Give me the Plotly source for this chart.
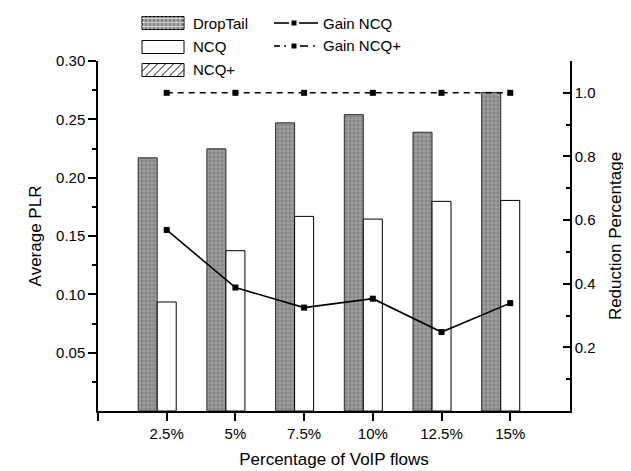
import plotly.graph_objects as go

categories = ["2.5%", "5%", "7.5%", "10%", "12.5%", "15%"]
x_pos = [1, 2, 3, 4, 5, 6]
droptail = [0.217, 0.2247, 0.247, 0.254, 0.2389, 0.2731]
ncq = [0.0934, 0.1374, 0.1668, 0.1645, 0.1797, 0.1805]
ncq_plus = [0, 0, 0, 0, 0, 0]
gain_ncq = [0.569, 0.388, 0.325, 0.353, 0.248, 0.339]
gain_ncq_plus = [1.0, 1.0, 1.0, 1.0, 1.0, 1.0]

left_ticks = [0.05, 0.10, 0.15, 0.20, 0.25, 0.30]
left_minor = [0.025, 0.075, 0.125, 0.175, 0.225, 0.275]
right_ticks = [0.2, 0.4, 0.6, 0.8, 1.0]
right_minor = [0.1, 0.3, 0.5, 0.7, 0.9, 1.1]

W, H = 631, 471
PL, PR, PT, PB = 90, 562, 53, 403
FONT = "Liberation Sans, Arial, sans-serif"


def px(x):
    return (x - PL) / (PR - PL)


def py(y):
    return (PB - y) / (PB - PT)


fig = go.Figure()
fig.add_trace(go.Bar(
    x=x_pos, y=droptail, name="DropTail",
    marker=dict(color="#858585",
                pattern=dict(shape="+", fgcolor="#d2d2d2", bgcolor="#858585",
                             size=4, solidity=0.35),
                line=dict(color="#2a2a2a", width=1)),
))
fig.add_trace(go.Bar(
    x=x_pos, y=ncq, name="NCQ",
    marker=dict(color="white", line=dict(color="black", width=1)),
))
fig.add_trace(go.Bar(
    x=x_pos, y=ncq_plus, name="NCQ+",
    marker=dict(color="white",
                pattern=dict(shape="/", fgcolor="black", bgcolor="white", size=8),
                line=dict(color="black", width=0)),
))
fig.add_trace(go.Scatter(
    x=x_pos, y=gain_ncq, name="Gain NCQ", yaxis="y2", mode="lines+markers",
    line=dict(color="black", width=1.6),
    marker=dict(symbol="square", size=6, color="black"),
))
fig.add_trace(go.Scatter(
    x=x_pos, y=gain_ncq_plus, name="Gain NCQ+", yaxis="y2", mode="lines+markers",
    line=dict(color="black", width=1.6, dash="6px,5px"),
    marker=dict(symbol="square", size=6, color="black"),
))

shapes = []
annotations = []

# custom legend (bars)
rows = [15, 39, 62]
pw0, pw1 = 134, 176
ph = 6.5
labels = ["DropTail", "NCQ", "NCQ+"]
for i, (yc, lab) in enumerate(zip(rows, labels)):
    y0, y1 = yc - ph, yc + ph
    fill = "#858585" if i == 0 else "white"
    shapes.append(dict(type="rect", xref="paper", yref="paper",
                       x0=px(pw0), x1=px(pw1), y0=py(y1), y1=py(y0),
                       fillcolor=fill, line=dict(color="black", width=1)))
    if i == 0:
        path = ""
        xx = pw0 + 2
        while xx < pw1:
            path += f"M{px(xx)},{py(y0)} L{px(xx)},{py(y1)} "
            xx += 4
        yy = y0 + 2
        while yy < y1:
            path += f"M{px(pw0)},{py(yy)} L{px(pw1)},{py(yy)} "
            yy += 4
        shapes.append(dict(type="path", xref="paper", yref="paper", path=path,
                           line=dict(color="#d2d2d2", width=1)))
    if i == 2:
        path = ""
        hgt = y1 - y0
        k = pw0 - hgt
        while k < pw1:
            xa, ya = k, y1
            xb, yb = k + hgt, y0
            if xa < pw0:
                ya = y1 - (pw0 - xa)
                xa = pw0
            if xb > pw1:
                yb = y0 + (xb - pw1)
                xb = pw1
            if xb > xa:
                path += f"M{px(xa)},{py(ya)} L{px(xb)},{py(yb)} "
            k += 8
        shapes.append(dict(type="path", xref="paper", yref="paper", path=path,
                           line=dict(color="black", width=1)))
    annotations.append(dict(text=lab, xref="paper", yref="paper", x=px(183), y=py(yc),
                            xanchor="left", yanchor="middle", showarrow=False,
                            font=dict(size=15, family=FONT, color="black")))

# custom legend (lines)
ly1, ly2 = 15, 38
for seg in [(266, 281), (291, 310)]:
    shapes.append(dict(type="line", xref="paper", yref="paper",
                       x0=px(seg[0]), x1=px(seg[1]), y0=py(ly1), y1=py(ly1),
                       line=dict(color="black", width=1.6)))
for seg in [(266, 272), (276, 278), (292, 300), (305, 307)]:
    shapes.append(dict(type="line", xref="paper", yref="paper",
                       x0=px(seg[0]), x1=px(seg[1]), y0=py(ly2), y1=py(ly2),
                       line=dict(color="black", width=1.6)))
for yc in (ly1, ly2):
    shapes.append(dict(type="rect", xref="paper", yref="paper",
                       x0=px(283.5), x1=px(288.5), y0=py(yc + 2.5), y1=py(yc - 2.5),
                       fillcolor="black", line=dict(width=0)))
for yc, lab in [(ly1, "Gain NCQ"), (ly2, "Gain NCQ+")]:
    annotations.append(dict(text=lab, xref="paper", yref="paper", x=px(313), y=py(yc),
                            xanchor="left", yanchor="middle", showarrow=False,
                            font=dict(size=15, family=FONT, color="black")))

fig.update_layout(
    width=W, height=H, autosize=False,
    margin=dict(l=PL, r=W - PR, t=PT, b=H - PB, pad=0),
    plot_bgcolor="white", paper_bgcolor="white",
    barmode="group", bargap=0.17, bargroupgap=0,
    showlegend=False,
    font=dict(family=FONT, size=15, color="black"),
    shapes=shapes, annotations=annotations,
    xaxis=dict(range=[0, 6.87], tickvals=[0] + x_pos, ticktext=[""] + categories,
               ticks="outside", ticklen=8, tickwidth=1.5, tickcolor="black",
               showline=True, linecolor="black", linewidth=1.5,
               showgrid=False, zeroline=False,
               title=dict(text="Percentage of VoIP flows", font=dict(size=17), standoff=12),
               tickfont=dict(size=15)),
    yaxis=dict(range=[0, 0.30], tickvals=left_ticks, tickformat=".2f",
               ticks="outside", ticklen=8, tickwidth=1.5, tickcolor="black",
               minor=dict(tickvals=left_minor, ticks="outside", ticklen=4,
                          tickwidth=1.5, tickcolor="black", showgrid=False),
               showline=True, linecolor="black", linewidth=1.5,
               showgrid=False, zeroline=False,
               title=dict(text="Average PLR", font=dict(size=17), standoff=10),
               tickfont=dict(size=15)),
    yaxis2=dict(range=[0, 1.1], tickvals=right_ticks, tickformat=".1f",
                overlaying="y", side="right",
                ticks="inside", ticklen=7, tickwidth=1.5, tickcolor="black",
                minor=dict(tickvals=right_minor, ticks="inside", ticklen=4,
                           tickwidth=1.5, tickcolor="black", showgrid=False),
                showline=True, linecolor="black", linewidth=1.5,
                showgrid=False, zeroline=False,
                title=dict(text="Reduction Percentage", font=dict(size=17), standoff=14),
                tickfont=dict(size=15)),
)

fig.write_html("out.html")
